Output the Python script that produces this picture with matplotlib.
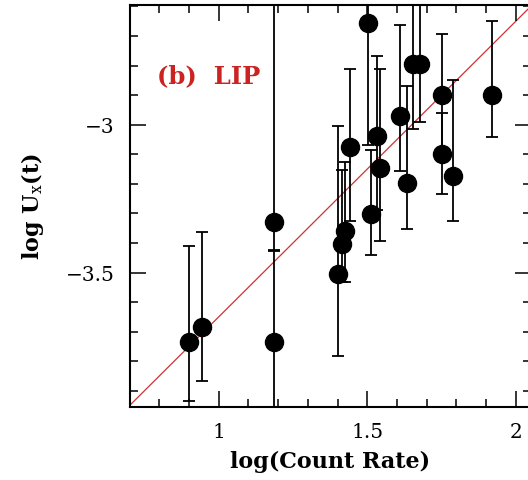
import matplotlib
matplotlib.use("Agg")
import matplotlib.pyplot as plt
import numpy as np
from matplotlib.ticker import MultipleLocator

plt.rcParams["font.family"] = ["DejaVu Serif"]
plt.rcParams["mathtext.fontset"] = "dejavuserif"

# log(count rate) and log U_x(t) with asymmetric errors
log_rate = [0.900, 0.943, 1.186, 1.186, 1.403, 1.414, 1.425, 1.443, 1.504,
            1.513, 1.534, 1.543, 1.610, 1.635, 1.655, 1.678, 1.753, 1.753,
            1.790, 1.919]
log_ux = [-3.735, -3.685, -3.329, -3.736, -3.504, -3.403, -3.361, -3.076,
          -2.655, -3.301, -3.038, -3.147, -2.970, -3.196, -2.796, -2.796,
          -2.898, -3.098, -3.172, -2.898]
err_up = [0.323, 0.322, 0.800, 0.310, 0.501, 0.250, 0.236, 0.263, 0.500,
          0.214, 0.271, 0.334, 0.309, 0.327, 0.500, 0.500, 0.206, 0.139,
          0.324, 0.248]
err_down = [0.199, 0.183, 0.096, 0.400, 0.277, 0.130, 0.170, 0.250, 0.415,
            0.139, 0.249, 0.248, 0.185, 0.156, 0.220, 0.195, 0.206, 0.136,
            0.154, 0.142]

# one-to-one reference line: log U = log(rate) - 4.65
line_x = [0.7, 2.05]
line_offset = -4.65

x_lim = (0.7, 2.05)
y_lim = (-3.955, -2.595)

fig = plt.figure(figsize=(5.28, 4.81), dpi=100)
ax = fig.add_axes([0.2455, 0.1518, 0.7595, 0.8357])

ax.plot(line_x, [v + line_offset for v in line_x], color="#cc3333",
        lw=0.9, zorder=1)

ax.errorbar(log_rate, log_ux, yerr=[err_down, err_up], fmt="o", color="black",
            ms=13, ecolor="black", elinewidth=1.3, capsize=4.5, capthick=1.3,
            zorder=3)

ax.set_xlim(*x_lim)
ax.set_ylim(*y_lim)

ax.xaxis.set_major_locator(MultipleLocator(0.5))
ax.xaxis.set_minor_locator(MultipleLocator(0.1))
ax.yaxis.set_major_locator(MultipleLocator(0.5))
ax.yaxis.set_minor_locator(MultipleLocator(0.1))
ax.xaxis.set_major_formatter(plt.FuncFormatter(lambda v, p: f"{v:g}"))
ax.yaxis.set_major_formatter(plt.FuncFormatter(lambda v, p: f"{v:g}".replace("-", "\u2212")))

ax.tick_params(which="both", direction="in", top=True, right=True,
               width=1.1, labelsize=14.5, pad=11)
ax.tick_params(which="major", length=11.5)
ax.tick_params(which="minor", length=5.8)
for s in ax.spines.values():
    s.set_linewidth(1.5)

ax.set_xlabel("log(Count Rate)", fontsize=16, fontweight="semibold", labelpad=6)
ax.set_ylabel(r"log U$_{\rm x}$(t)", fontsize=16, fontweight="semibold", labelpad=14)

ax.text(0.068, 0.825, "(b)  LIP", transform=ax.transAxes, color="#cc2222",
        fontsize=17.5, fontweight="semibold", ha="left", va="center")

fig.savefig("out.png", dpi=100)
